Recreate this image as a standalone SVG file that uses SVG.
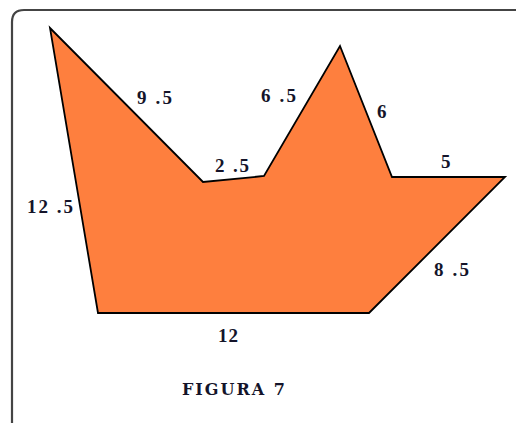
<svg xmlns="http://www.w3.org/2000/svg" width="516" height="423" viewBox="0 0 516 423">
<style>
.lbl{font-family:"Liberation Serif","DejaVu Serif",serif;font-weight:bold;font-size:19px;fill:#14142a}
.cap{font-family:"DejaVu Serif","Liberation Serif",serif;font-weight:bold;font-size:16px;fill:#14142a}
</style>
<rect width="516" height="423" fill="#ffffff"/>
<path d="M12,440 L12,22 Q12,10 24,10 L530,10" fill="none" stroke="#444" stroke-width="2.2"/>
<g id="shape">
<polygon points="50,28 203,182 264,176 340,46 392,177 505,177 369,313 98,313" fill="#FE7F3E" stroke="#000" stroke-width="1.8" stroke-linejoin="miter"/>
</g>
<g id="labels">
<text class="lbl" x="137" y="104" textLength="35" lengthAdjust="spacing">9 .5</text>
<text class="lbl" x="215" y="172" textLength="34" lengthAdjust="spacing">2 .5</text>
<text class="lbl" x="27" y="213" textLength="46" lengthAdjust="spacing">12 .5</text>
<text class="lbl" x="261" y="102" textLength="35" lengthAdjust="spacing">6 .5</text>
<text class="lbl" x="377" y="118">6</text>
<text class="lbl" x="441" y="168">5</text>
<text class="lbl" x="434" y="276" textLength="35" lengthAdjust="spacing">8 .5</text>
<text class="lbl" x="218" y="342" textLength="20" lengthAdjust="spacing">12</text>
<text class="cap" x="182" y="395" textLength="103" lengthAdjust="spacing">FIGURA 7</text>
</g>
</svg>
